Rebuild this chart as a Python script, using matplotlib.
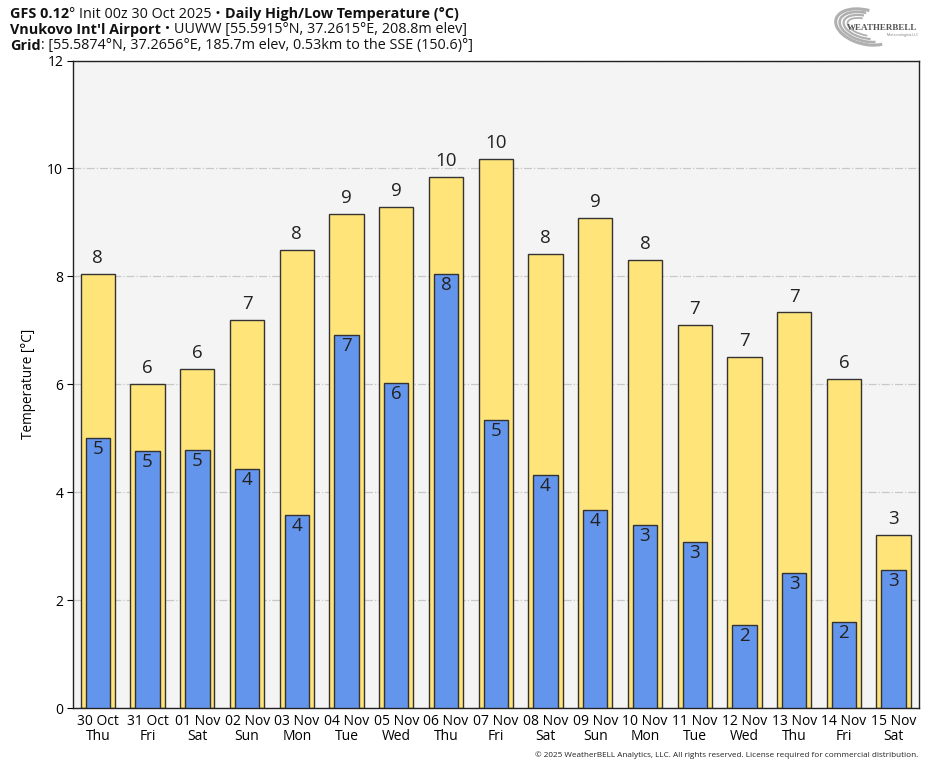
import matplotlib
matplotlib.use("Agg")
import matplotlib.pyplot as plt
from matplotlib.patches import Arc
import numpy as np

plt.rcParams['font.family'] = ['Open Sans', 'DejaVu Sans']

dates = ["30 Oct", "31 Oct", "01 Nov", "02 Nov", "03 Nov", "04 Nov", "05 Nov", "06 Nov",
         "07 Nov", "08 Nov", "09 Nov", "10 Nov", "11 Nov", "12 Nov", "13 Nov", "14 Nov", "15 Nov"]
days = ["Thu", "Fri", "Sat", "Sun", "Mon", "Tue", "Wed", "Thu",
        "Fri", "Sat", "Sun", "Mon", "Tue", "Wed", "Thu", "Fri", "Sat"]
highs = [8.05, 6.01, 6.29, 7.19, 8.48, 9.15, 9.28, 9.85, 10.17, 8.42, 9.09, 8.30,
         7.09, 6.51, 7.33, 6.09, 3.20]
lows = [5.01, 4.77, 4.78, 4.43, 3.58, 6.91, 6.03, 8.05, 5.33, 4.32, 3.67, 3.39,
        3.07, 1.54, 2.51, 1.59, 2.56]

W, H = 935, 768
fig = plt.figure(figsize=(W / 100, H / 100), dpi=100)
fig.patch.set_facecolor('white')
ax = fig.add_axes([73 / W, 1 - 708 / H, (918.5 - 73) / W, (708 - 60.5) / H])
ax.set_facecolor('#f4f4f4')

x = np.arange(len(dates))
ax.bar(x, highs, width=0.69, color='#ffe47a', edgecolor='#333333', linewidth=1.0, zorder=2)
ax.bar(x, lows, width=0.49, color='#6495ed', edgecolor='#333333', linewidth=1.0, zorder=3)

for xi, h in zip(x, highs):
    ax.annotate(f"{int(round(h))}", (xi, h), xytext=(0, 5), textcoords='offset points',
                ha='center', va='bottom', fontsize=13.5, color='#222222', zorder=4)
for xi, l in zip(x, lows):
    ax.annotate(f"{int(round(l))}", (xi, l), xytext=(0, -1.5), textcoords='offset points',
                ha='center', va='top', fontsize=13.5, color='#222222', zorder=4)

ax.set_xlim(-0.5, len(dates) - 0.5)
ax.set_ylim(0, 12)
ax.set_yticks([0, 2, 4, 6, 8, 10, 12])
ax.set_xticks(x)
ax.set_xticklabels([f"{d}\n{w}" for d, w in zip(dates, days)], fontsize=10, linespacing=1.05)
ax.tick_params(axis='x', length=0, pad=4)
ax.tick_params(axis='y', length=4, labelsize=10, pad=3)
ax.yaxis.grid(True, linestyle='-.', color='#c8c8c8', linewidth=0.9, zorder=0)
ax.set_axisbelow(True)
for s in ax.spines.values():
    s.set_color('#222222')
    s.set_linewidth(1.0)
ax.set_ylabel("Temperature [°C]", fontsize=9.8, labelpad=8)

# Header with mixed weights
fig.canvas.draw()
renderer = fig.canvas.get_renderer()

def rich_line(parts, x0, y0, size=10.4):
    xp = x0
    for txt, wt in parts:
        t = fig.text(xp / W, 1 - y0 / H, txt, fontsize=size, fontweight=wt,
                     ha='left', va='center', color='#111111')
        bb = t.get_window_extent(renderer=renderer)
        xp += bb.width

rich_line([("GFS 0.12", 'bold'), ("° Init 00z 30 Oct 2025 • ", 'normal'),
           ("Daily High/Low Temperature (°C)", 'bold')], 10, 14)
rich_line([("Vnukovo Int'l Airport", 'bold'),
           (" • UUWW [55.5915°N, 37.2615°E, 208.8m elev]", 'normal')], 10, 30)
rich_line([("Grid", 'bold'),
           (": [55.5874°N, 37.2656°E, 185.7m elev, 0.53km to the SSE (150.6)°]", 'normal')], 10, 46)

fig.text(918 / W, 1 - 755 / H,
         "© 2025 WeatherBELL Analytics, LLC. All rights reserved. License required for commercial distribution.",
         fontsize=5.85, ha='right', va='center', color='#222222')

# Logo approximation
lax = fig.add_axes([833 / W, 1 - 48 / H, 86 / W, 42 / H])
lax.set_xlim(0, 86)
lax.set_ylim(0, 42)
lax.axis('off')
for i, (w_, h_, a1, a2) in enumerate([(60, 34, 90, 330), (52, 28, 100, 320), (44, 22, 110, 310),
                                       (36, 16, 120, 300)]):
    lax.add_patch(Arc((32, 21), w_, h_, angle=-15, theta1=a1, theta2=a2,
                      color='#b0b0b0', linewidth=2.2 - i * 0.3))
lax.text(14, 20, "WEATHERBELL", fontsize=6.5, color='#555555', fontweight='bold',
         ha='left', va='center', family='Liberation Serif')
lax.text(70, 13, "Meteorologists LLC", fontsize=2.5, color='#777777', ha='center', va='center')

fig.savefig("out.png", dpi=100)
